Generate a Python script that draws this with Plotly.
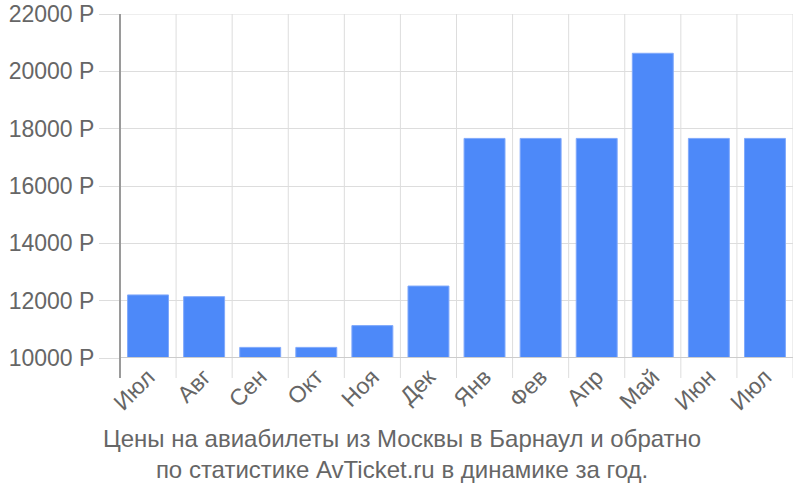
import plotly.graph_objects as go

months = ["Июл", "Авг", "Сен", "Окт", "Ноя", "Дек", "Янв", "Фев", "Апр", "Май", "Июн", "Июл"]
prices = [12200, 12140, 10370, 10370, 11130, 12510, 17660, 17660, 17660, 20630, 17660, 17660]
y_ticks = [10000, 12000, 14000, 16000, 18000, 20000, 22000]
y_labels = [f"{v} Р" for v in y_ticks]
title_lines = [
    "Цены на авиабилеты из Москвы в Барнаул и обратно",
    "по статистике AvTicket.ru в динамике за год.",
]

# positional x so duplicate "Июл" stays two bars
x_pos = list(range(len(months)))

fig = go.Figure(go.Bar(
    x=x_pos,
    y=prices,
    marker=dict(color="#4d89f9", line=dict(color="#80a9fb", width=1)),
    hoverinfo="y",
))

fig.update_layout(
    width=800,
    height=500,
    paper_bgcolor="white",
    plot_bgcolor="white",
    font=dict(family="Liberation Sans, Arial, sans-serif", color="#666666", size=23),
    bargap=0.27,
    showlegend=False,
    margin=dict(t=14, b=142, l=120, r=7, autoexpand=False),
    xaxis=dict(
        type="linear",
        range=[-0.5, len(months) - 0.5],
        tickmode="array",
        tickvals=x_pos,
        ticktext=months,
        tickangle=-45,
        showgrid=False,
        ticks="",
        zeroline=False,
        automargin=False,
        ticklabeloverflow="allow",
    ),
    yaxis=dict(
        range=[10000, 22000],
        tickmode="array",
        tickvals=y_ticks,
        ticktext=y_labels,
        gridcolor="#dddddd",
        gridwidth=1,
        ticks="outside",
        ticklen=20,
        tickcolor="#dddddd",
        zeroline=False,
        showline=False,
        automargin=False,
        ticklabeloverflow="allow",
    ),
)

# category boundary gridlines and ticks drawn as shapes in axis units
for i in range(1, len(months) + 1):
    b = i - 0.5
    fig.add_shape(
        type="line", xref="x", yref="paper",
        x0=b, x1=b, y0=-20 / 344, y1=1,
        line=dict(color="#dddddd", width=1),
        layer="below",
    )
# top gridline (plotly skips the one on the range edge)
fig.add_shape(
    type="line", xref="paper", yref="y",
    x0=0, x1=1, y0=y_ticks[-1], y1=y_ticks[-1],
    line=dict(color="#dddddd", width=1),
    layer="below",
)
fig.add_shape(
    type="line", xref="paper", yref="y",
    x0=0, x1=1, y0=y_ticks[0], y1=y_ticks[0],
    line=dict(color="#cccccc", width=2),
)
# left axis line
fig.add_shape(
    type="line", xref="paper", yref="paper",
    x0=0, x1=0, y0=-20 / 344, y1=1,
    line=dict(color="#9a9a9a", width=2),
)

fig.add_annotation(
    text="<br>".join(title_lines),
    xref="paper", yref="paper",
    x=0.419, y=-0.19,
    xanchor="center", yanchor="top",
    showarrow=False,
    font=dict(size=24, color="#666666"),
)

# drop the default body margin so the figure sits at the window's corner
fig.write_html(
    "out.html",
    config={"displayModeBar": False},
    post_script="document.body.style.margin='0';",
)
